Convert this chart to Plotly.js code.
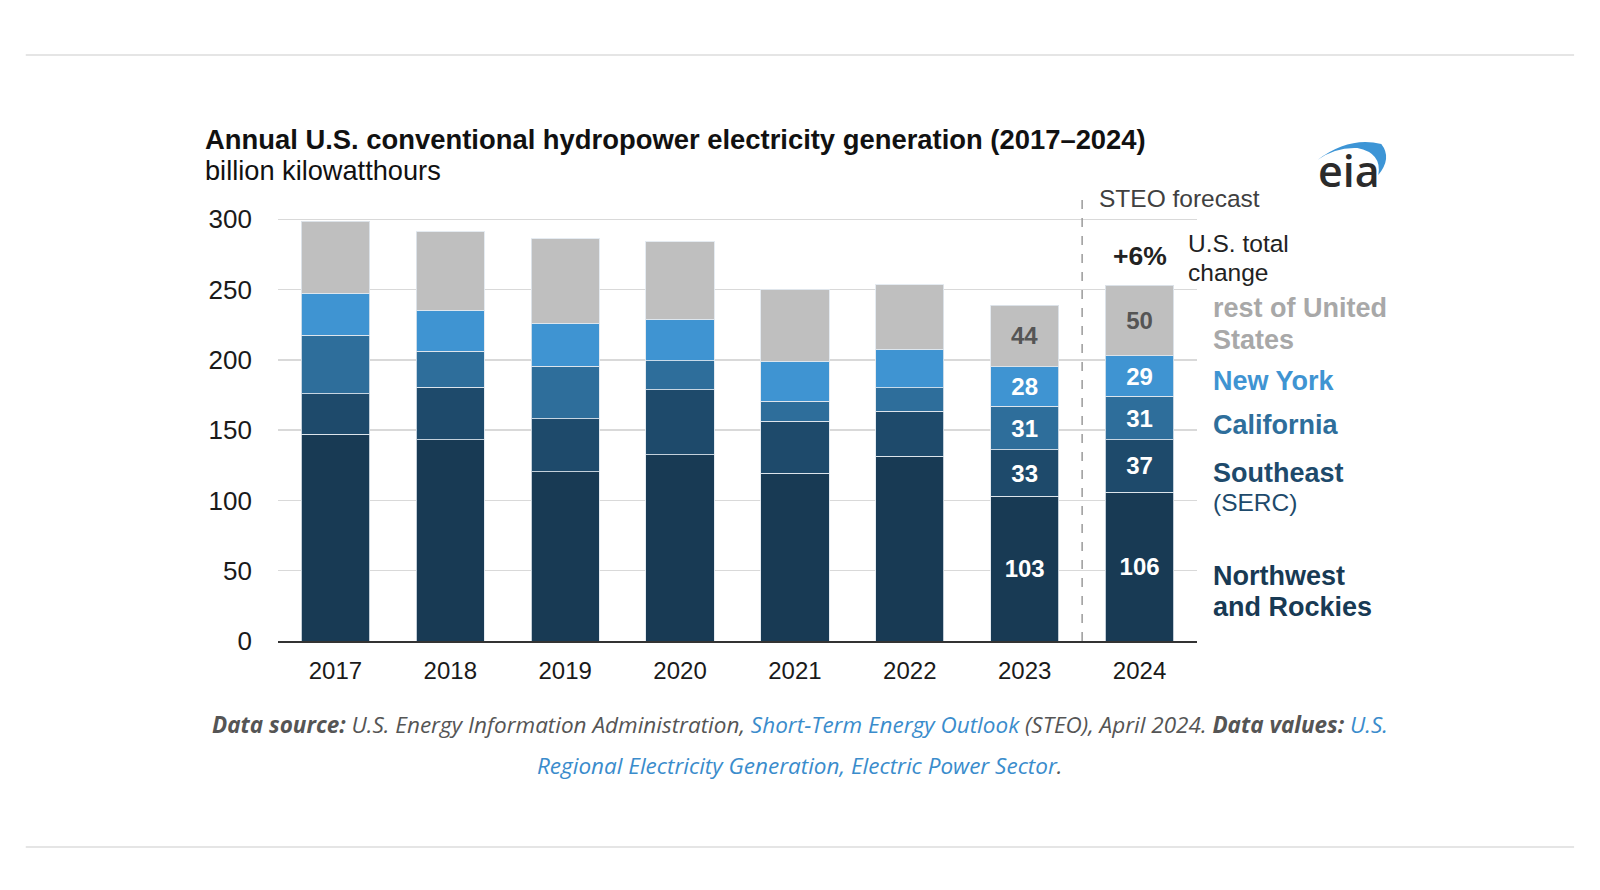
<!DOCTYPE html>
<html>
<head>
<meta charset="utf-8">
<script src="https://cdn.plot.ly/plotly-3.0.1.min.js"></script>
<style>
  html, body { margin: 0; padding: 0; background: #ffffff; }
  #chart { width: 1600px; height: 890px; }
</style>
</head>
<body>
<div id="chart"></div>
<script>
// ---- data (billion kilowatthours) ----
const years = ['2017', '2018', '2019', '2020', '2021', '2022', '2023', '2024'];
const northwestRockies = [147, 143, 120.5, 132.6, 119.3, 131.6, 103, 106];
const southeastSERC = [29, 37.4, 37.5, 46, 37.2, 31.8, 33, 37];
const california = [41.5, 25.6, 37.6, 20.6, 14.2, 16.8, 31, 31];
const newYork = [30, 29.4, 30.4, 29.6, 28.3, 27.3, 28, 29];
const restOfUS = [51, 55.8, 60.2, 55.1, 51, 45.8, 44, 50];
const labeledYears = ['2023', '2024'];
const yTicks = [0, 50, 100, 150, 200, 250, 300];
const totalChange = '+6%';

// ---- layout geometry (pixels) ----
const W = 1600, H = 890;
const L = 277.5, R = 1197.5, T = 194, B = 641;
const px = p => (p - L) / (R - L);
const py = p => (B - p) / (B - T);

const FONT = 'Liberation Sans, Arial, Helvetica, sans-serif';
const segLine = { color: 'rgba(225,232,238,0.85)', width: 1 };

function labelsFor(vals) {
  return vals.map((v, i) => labeledYears.includes(years[i]) ? String(Math.round(v)) : '');
}

function barTrace(name, vals, color, textColor) {
  return {
    type: 'bar', name: name, x: years, y: vals,
    marker: { color: color, line: segLine },
    text: labelsFor(vals),
    textposition: 'inside', insidetextanchor: 'middle', textangle: 0,
    constraintext: 'none',
    textfont: { family: FONT, size: 24, color: textColor, weight: 'bold' },
    hoverinfo: 'x+y+name'
  };
}

const traces = [
  barTrace('Northwest and Rockies', northwestRockies, '#183a54', '#ffffff'),
  barTrace('Southeast (SERC)', southeastSERC, '#1e4a6b', '#ffffff'),
  barTrace('California', california, '#2e6e9b', '#ffffff'),
  barTrace('New York', newYork, '#3f94d2', '#ffffff'),
  barTrace('rest of United States', restOfUS, '#bfbfbf', '#555555')
];

function ann(text, xp, yp, opts) {
  return Object.assign({
    text: text, xref: 'paper', yref: 'paper', x: px(xp), y: py(yp),
    xanchor: 'left', yanchor: 'middle', showarrow: false,
    font: { family: FONT, size: 27, color: '#111' }
  }, opts || {});
}

const annotations = [
  ann('<b>Annual U.S. conventional hydropower electricity generation (2017–2024)</b>', 202, 140, { font: { family: FONT, size: 27.4, color: '#111' } }),
  ann('billion kilowatthours', 202, 171, { font: { family: FONT, size: 27.2, color: '#111' } }),
  ann('STEO forecast', 1097, 199, { font: { family: FONT, size: 24.5, color: '#404040' } }),
  ann('<b>' + totalChange + '</b>', 1140, 256, { xanchor: 'center', font: { family: FONT, size: 26.5, color: '#222' } }),
  ann('U.S. total', 1186, 243.5, { font: { family: FONT, size: 24.5, color: '#222' } }),
  ann('change', 1186, 272, { font: { family: FONT, size: 24.5, color: '#222' } }),
  ann('<b>rest of United</b>', 1212, 308, { font: { family: FONT, size: 27, color: '#a8a8a8' } }),
  ann('<b>States</b>', 1212, 339.5, { font: { family: FONT, size: 27, color: '#a8a8a8' } }),
  ann('<b>New York</b>', 1212, 380.5, { font: { family: FONT, size: 27, color: '#3f94d2' } }),
  ann('<b>California</b>', 1212, 424.5, { font: { family: FONT, size: 27, color: '#2e6e9b' } }),
  ann('<b>Southeast</b>', 1212, 472.5, { font: { family: FONT, size: 27, color: '#1e4a6b' } }),
  ann('(SERC)', 1212, 502, { font: { family: FONT, size: 24.5, color: '#1e4a6b' } }),
  ann('<b>Northwest</b>', 1212, 575.5, { font: { family: FONT, size: 27, color: '#183a54' } }),
  ann('<b>and Rockies</b>', 1212, 607, { font: { family: FONT, size: 27, color: '#183a54' } }),
  // eia logo text
  ann('eia', 1350, 170, { xanchor: 'center', font: { family: 'Open Sans, Liberation Sans, sans-serif', size: 43, color: '#2b2b2b', weight: 600 } }),
  // footer
  ann('<i><b>Data source:</b> U.S. Energy Information Administration, <span style="color:#3a8ccc">Short-Term Energy Outlook</span> (STEO), April 2024. <b>Data values:</b> <span style="color:#3a8ccc">U.S.</span></i>',
      800, 724.5, { xanchor: 'center', font: { family: 'Open Sans, sans-serif', size: 22.5, color: '#555555' } }),
  ann('<i><span style="color:#3a8ccc">Regional Electricity Generation, Electric Power Sector</span>.</i>',
      800, 765.5, { xanchor: 'center', font: { family: 'Open Sans, sans-serif', size: 22.5, color: '#555555' } })
];

// logo swoosh (pixel points -> paper)
function pathFromPx(cmds) {
  return cmds.map(c => {
    if (typeof c === 'string') return c;
    return px(c[0]).toFixed(5) + ',' + py(c[1]).toFixed(5);
  }).join(' ');
}
const swoosh = pathFromPx(['M', [1318, 160], 'Q', [1350, 136], [1382, 144], 'Q', [1393, 158], [1379, 175],
                           'Q', [1383, 153], [1358, 148], 'Q', [1336, 147], [1318, 160], 'Z']);

const shapes = [
  { type: 'line', xref: 'paper', yref: 'paper', x0: px(25), x1: px(1575), y0: py(55), y1: py(55),
    line: { color: '#e5e5e5', width: 2 } },
  { type: 'line', xref: 'paper', yref: 'paper', x0: px(25), x1: px(1575), y0: py(847), y1: py(847),
    line: { color: '#e5e5e5', width: 2 } },
  { type: 'line', xref: 'x', yref: 'paper', x0: 6.5, x1: 6.5, y0: 0, y1: 1,
    line: { color: '#9a9a9a', width: 1.5, dash: 'dash' }, layer: 'above' },
  { type: 'path', xref: 'paper', yref: 'paper', path: swoosh, fillcolor: '#3d95d6', line: { width: 0 } }
];

const layout = {
  width: W, height: H,
  margin: { l: L, r: W - R, t: T, b: H - B, pad: 0 },
  paper_bgcolor: '#ffffff', plot_bgcolor: '#ffffff',
  barmode: 'stack', bargap: 0.405,
  showlegend: false,
  font: { family: FONT, color: '#1a1a1a' },
  xaxis: {
    type: 'category', range: [-0.5, 7.5], fixedrange: true,
    showline: true, linecolor: '#333333', linewidth: 2,
    showgrid: false, zeroline: false, ticks: '',
    tickfont: { family: FONT, size: 24, color: '#1a1a1a' },
    ticklabelstandoff: 7
  },
  yaxis: {
    range: [0, 318], fixedrange: true,
    tickmode: 'array', tickvals: yTicks, ticktext: yTicks.map(String),
    showgrid: true, gridcolor: '#d9d9d9', gridwidth: 1.5,
    zeroline: false, showline: false, ticks: '',
    tickfont: { family: FONT, size: 26, color: '#1a1a1a' },
    ticklabelstandoff: 25
  },
  annotations: annotations,
  shapes: shapes
};

Plotly.newPlot('chart', traces, layout, { displayModeBar: false, staticPlot: true });
</script>
</body>
</html>
